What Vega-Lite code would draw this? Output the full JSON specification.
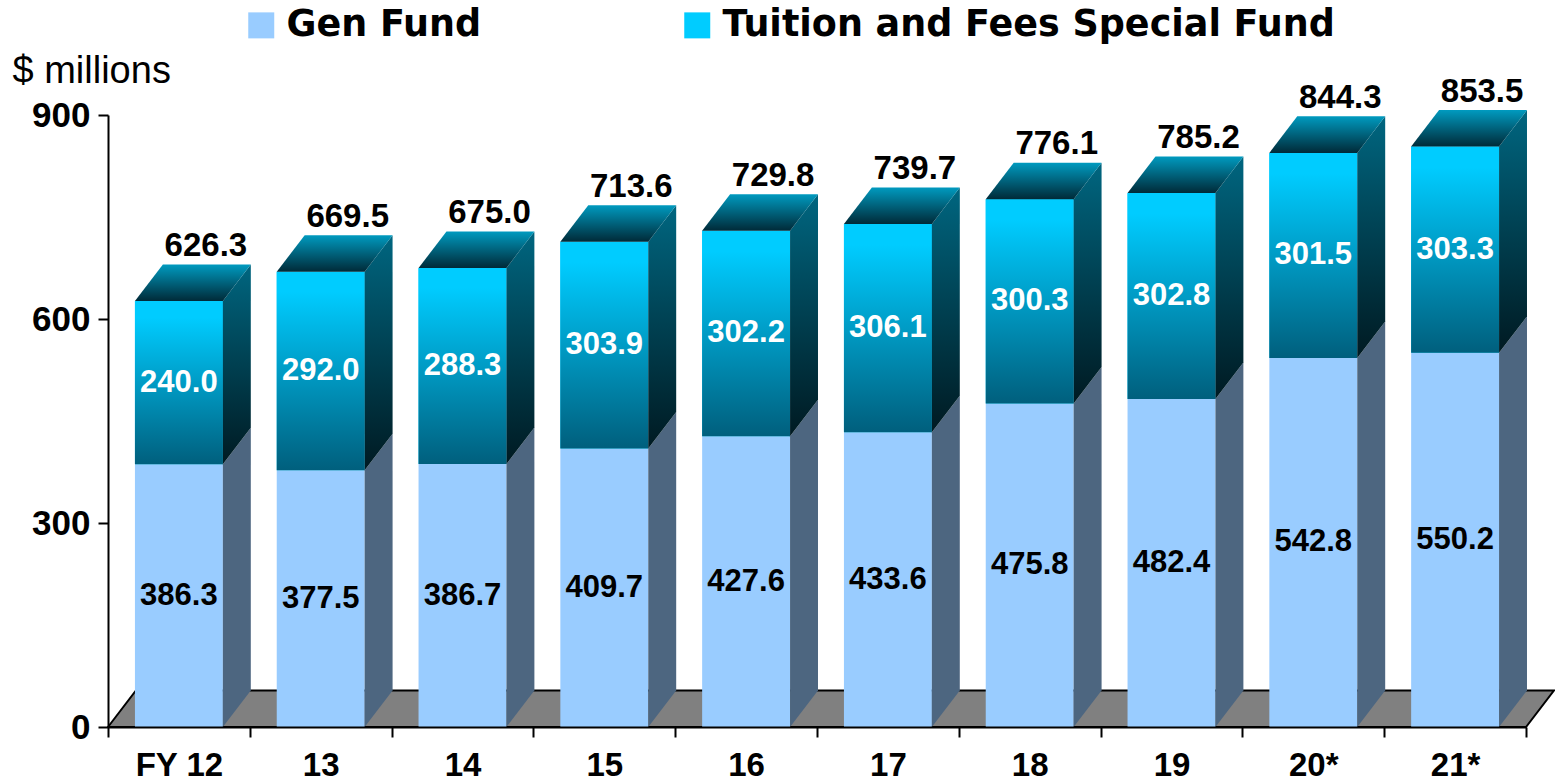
{
"$schema":"https://vega.github.io/schema/vega-lite/v6.json",
"width":1418,"height":612,
"autosize":{"type":"none"},
"padding":{"left":108,"top":115,"right":29,"bottom":54},
"background":"white",
"config":{"view":{"stroke":null},"font":"Liberation Sans"},
"data":{"values":[
{"fy":"FY 12","series":"Gen Fund","value":386.3},{"fy":"FY 12","series":"Tuition and Fees Special Fund","value":240.0},
{"fy":"13","series":"Gen Fund","value":377.5},{"fy":"13","series":"Tuition and Fees Special Fund","value":292.0},
{"fy":"14","series":"Gen Fund","value":386.7},{"fy":"14","series":"Tuition and Fees Special Fund","value":288.3},
{"fy":"15","series":"Gen Fund","value":409.7},{"fy":"15","series":"Tuition and Fees Special Fund","value":303.9},
{"fy":"16","series":"Gen Fund","value":427.6},{"fy":"16","series":"Tuition and Fees Special Fund","value":302.2},
{"fy":"17","series":"Gen Fund","value":433.6},{"fy":"17","series":"Tuition and Fees Special Fund","value":306.1},
{"fy":"18","series":"Gen Fund","value":475.8},{"fy":"18","series":"Tuition and Fees Special Fund","value":300.3},
{"fy":"19","series":"Gen Fund","value":482.4},{"fy":"19","series":"Tuition and Fees Special Fund","value":302.8},
{"fy":"20*","series":"Gen Fund","value":542.8},{"fy":"20*","series":"Tuition and Fees Special Fund","value":301.5},
{"fy":"21*","series":"Gen Fund","value":550.2},{"fy":"21*","series":"Tuition and Fees Special Fund","value":303.3}
]},
"transform":[
{"stack":"value","groupby":["fy"],"sort":[{"field":"series","order":"ascending"}],"as":["y0","y1"]},
{"calculate":"indexof(['FY 12','13','14','15','16','17','18','19','20*','21*'],datum.fy)","as":"i"},
{"calculate":"(datum.y0+datum.y1)/2","as":"ym"},
{"calculate":"datum.i+0.5","as":"xc"}
],
"resolve":{"scale":{"x":"independent"}},
"layer":[
{"data":{"values":[
{"px":0,"hi":0,"lo":0},{"px":0.197,"hi":53.7,"lo":0},{"px":10,"hi":53.7,"lo":0},{"px":10.197,"hi":53.7,"lo":53.7}
]},
"mark":{"type":"area","orient":"vertical","fill":"#808080","stroke":"#000000","strokeWidth":2},
"encoding":{
"x":{"field":"px","type":"quantitative","scale":{"domain":[0,10],"nice":false,"zero":false},"axis":null},
"y":{"field":"hi","type":"quantitative","stack":null,"scale":{"domain":[0,900],"nice":false},
"axis":{"title":"$ millions","titleAngle":0,"titleAlign":"left","titleBaseline":"alphabetic","titleX":-96,"titleY":-33,"titleFont":"Liberation Sans","titleFontSize":38,"titleFontWeight":"normal","titleColor":"#000000",
"values":[0,300,600,900],"grid":false,"domainColor":"#000000","domainWidth":2,"tickColor":"#000000","tickWidth":2,"tickSize":10,"labelFont":"Liberation Sans","labelFontSize":35,"labelFontWeight":"bold","labelColor":"#000000","labelPadding":8}},
"y2":{"field":"lo"}
}},
{"mark":{"type":"bar","opacity":0},
"encoding":{
"x":{"field":"fy","type":"nominal","sort":["FY 12","13","14","15","16","17","18","19","20*","21*"],"scale":{"paddingInner":0,"paddingOuter":0},
"axis":{"title":null,"labelAngle":0,"tickBand":"extent","zindex":1,"domainColor":"#000000","domainWidth":2,"tickColor":"#000000","tickWidth":2,"tickSize":10,"labelFont":"Liberation Sans","labelFontSize":33,"labelFontWeight":"bold","labelColor":"#000000","labelPadding":12}},
"y":{"field":"y1","type":"quantitative","stack":null},
"y2":{"field":"y0"}
}},
{"mark":{"type":"bar"},
"encoding":{
"x":{"field":"fy","type":"nominal","sort":["FY 12","13","14","15","16","17","18","19","20*","21*"],"scale":{"paddingInner":0.38,"paddingOuter":0.19},"axis":null},
"y":{"field":"y1","type":"quantitative","stack":null},
"y2":{"field":"y0"},
"color":{"field":"series","type":"nominal","scale":{"domain":["Gen Fund","Tuition and Fees Special Fund"],"range":["#99CCFF","#00CCFF"]},
"legend":{"title":null,"orient":"none","legendX":135,"legendY":-108,"direction":"horizontal","columns":2,"columnPadding":197,"padding":0,"symbolType":"square","symbolSize":676,"symbolStrokeWidth":0,"labelFont":"DejaVu Sans","labelFontSize":36.5,"labelFontWeight":"bold","labelColor":"#000000","labelOffset":7,"labelLimit":800,
"encode":{"symbols":{"update":{"fill":{"signal":"datum.value==='Gen Fund'?'#99CCFF':{gradient:'linear',x1:0,y1:0,x2:0,y2:1,stops:[{offset:0,color:'#00CCFF'},{offset:0.1,color:'#00CCFF'},{offset:1,color:'#005F7D'}]}"}}}},
"encoding":{"symbols":{"fill":{"value":{"expr":"datum.value==='Gen Fund'?'#99CCFF':{gradient:'linear',x1:0,y1:0,x2:0,y2:1,stops:[{offset:0,color:'#00CCFF'},{offset:0.1,color:'#00CCFF'},{offset:1,color:'#005F7D'}]}"}}}}}
}}},
{"transform":[{"filter":"datum.series!=='Gen Fund'"}],
"mark":{"type":"bar","color":{"gradient":"linear","x1":0,"y1":0,"x2":0,"y2":1,"stops":[{"offset":0,"color":"#00CCFF"},{"offset":0.1,"color":"#00CCFF"},{"offset":1,"color":"#005F7D"}]}},
"encoding":{
"x":{"field":"fy","type":"nominal","sort":["FY 12","13","14","15","16","17","18","19","20*","21*"],"scale":{"paddingInner":0.38,"paddingOuter":0.19},"axis":null},
"y":{"field":"y1","type":"quantitative","stack":null},
"y2":{"field":"y0"}
}},
{"transform":[{"filter":"datum.series==='Gen Fund'"},{"calculate":"[0,1]","as":"k"},{"flatten":["k"]},{"calculate":"datum.i+0.81+datum.k*0.197","as":"px"},{"calculate":"datum.y1+datum.k*53.7","as":"hi"},{"calculate":"datum.y0+datum.k*53.7","as":"lo"}],
"mark":{"type":"area","orient":"vertical","fill":"#4D6680"},
"encoding":{
"x":{"field":"px","type":"quantitative","scale":{"domain":[0,10],"nice":false,"zero":false},"axis":null},
"y":{"field":"hi","type":"quantitative","stack":null},
"y2":{"field":"lo"},
"detail":{"field":"fy"}
}},
{"transform":[{"filter":"datum.series!=='Gen Fund'"},{"calculate":"[0,1]","as":"k"},{"flatten":["k"]},{"calculate":"datum.i+0.81+datum.k*0.197","as":"px"},{"calculate":"datum.y1+datum.k*53.7","as":"hi"},{"calculate":"datum.y0+datum.k*53.7","as":"lo"}],
"mark":{"type":"area","orient":"vertical","fill":{"gradient":"linear","x1":0,"y1":0,"x2":0,"y2":1,"stops":[{"offset":0,"color":"#006680"},{"offset":1,"color":"#001A22"}]}},
"encoding":{
"x":{"field":"px","type":"quantitative","scale":{"domain":[0,10],"nice":false,"zero":false},"axis":null},
"y":{"field":"hi","type":"quantitative","stack":null},
"y2":{"field":"lo"},
"detail":{"field":"fy"}
}},
{"transform":[{"filter":"datum.series!=='Gen Fund'"},{"calculate":"[0,0.197,0.62,0.817]","as":"xo"},{"calculate":"[0,53.7,53.7,53.7]","as":"yh"},{"calculate":"[0,0,0,53.7]","as":"yl"},{"flatten":["xo","yh","yl"]},{"calculate":"datum.i+0.19+datum.xo","as":"px"},{"calculate":"datum.y1+datum.yh","as":"hi"},{"calculate":"datum.y1+datum.yl","as":"lo"}],
"mark":{"type":"area","orient":"vertical","fill":{"gradient":"linear","x1":0,"y1":0,"x2":0,"y2":1,"stops":[{"offset":0,"color":"#009ABF"},{"offset":1,"color":"#002A38"}]}},
"encoding":{
"x":{"field":"px","type":"quantitative","scale":{"domain":[0,10],"nice":false,"zero":false},"axis":null},
"y":{"field":"hi","type":"quantitative","stack":null},
"y2":{"field":"lo"},
"detail":{"field":"fy"}
}},
{"mark":{"type":"text","font":"Liberation Sans","fontSize":31,"fontWeight":"bold","baseline":"middle","align":"center"},
"encoding":{
"x":{"field":"xc","type":"quantitative","scale":{"domain":[0,10],"nice":false,"zero":false},"axis":null},
"y":{"field":"ym","type":"quantitative","stack":null},
"text":{"field":"value","type":"quantitative","format":".1f"},
"color":{"condition":{"test":"datum.series==='Gen Fund'","value":"#000000"},"value":"#FFFFFF"}
}},
{"transform":[{"filter":"datum.series!=='Gen Fund'"}],
"mark":{"type":"text","font":"Liberation Sans","fontSize":33,"fontWeight":"bold","baseline":"middle","align":"center","color":"#000000","dx":27,"dy":-55},
"encoding":{
"x":{"field":"xc","type":"quantitative","scale":{"domain":[0,10],"nice":false,"zero":false},"axis":null},
"y":{"field":"y1","type":"quantitative","stack":null},
"text":{"field":"y1","type":"quantitative","format":".1f"}
}}
]
}
